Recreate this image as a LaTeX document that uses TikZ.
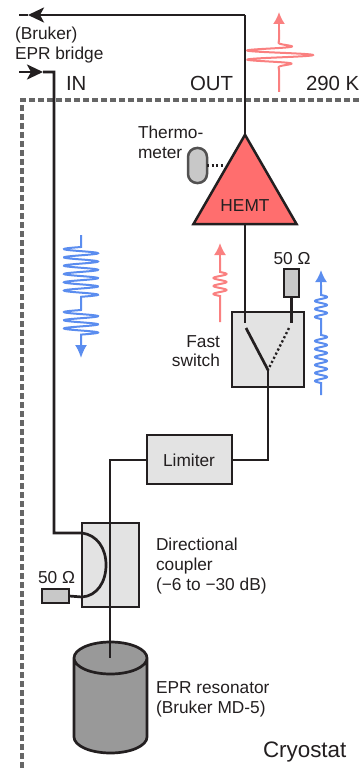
\documentclass[tikz,border=0pt]{standalone}
\usepackage{fontspec}
\setmainfont{Liberation Sans}
\usetikzlibrary{arrows.meta,shapes.geometric}
\definecolor{ink}{HTML}{231F20}
\definecolor{dashgray}{HTML}{666666}
\definecolor{hemtred}{HTML}{FF6E6E}
\definecolor{wavered}{HTML}{FA8080}
\definecolor{waveblue}{HTML}{5B8DEF}
\definecolor{boxgray}{HTML}{E3E3E3}
\definecolor{termgray}{HTML}{C8C8C8}
\definecolor{resgray}{HTML}{999999}
\tikzset{
  wire/.style={draw=ink,line width=2.7pt},
  headwire/.style={wire,-{Stealth[length=16pt,width=15pt,inset=4pt]}},
  boxnode/.style={draw=ink,line width=2.5pt,fill=boxgray,rectangle,inner sep=0pt,outer sep=0pt},
  loadnode/.style={draw=ink,line width=2.5pt,fill=termgray,rectangle,inner sep=0pt,outer sep=0pt},
  txt/.style={font=\fontsize{17.3pt}{19pt}\selectfont,text=ink,inner sep=0pt,outer sep=0pt,anchor=base west},
  bigtxt/.style={txt,font=\fontsize{20.4pt}{23pt}\selectfont},
  cryotxt/.style={txt,font=\fontsize{22.4pt}{24pt}\selectfont},
  wavered/.style={draw=wavered,line width=2pt},
  waveblue/.style={draw=waveblue,line width=2pt},
  redhead/.style={-{Latex[length=12pt,width=12pt]}},
  dotline/.style={draw=ink,line width=2.4pt,dash pattern=on 2.2pt off 2.4pt},
}
\begin{document}
\begin{tikzpicture}[x=1pt,y=-1pt]
\useasboundingbox (0,0) rectangle (359,770);
\fill[white] (0,0) rectangle (359,770);
% cryostat boundary
\draw[draw=dashgray,line width=3.4pt,dash pattern=on 6pt off 3pt] (359,100) -- (22,100) -- (22,770);
% nodes
\node[boxnode,minimum width=57pt,minimum height=84pt] (coupler) at (110.5,565) {};
\node[boxnode,minimum width=85pt,minimum height=49pt] (limiter) at (189.5,459.5) {};
\node[boxnode,minimum width=72pt,minimum height=75pt] (switch) at (268,349.5) {};
\node[loadnode,minimum width=15pt,minimum height=28pt] (loadA) at (291.5,283) {};
\node[loadnode,minimum width=27pt,minimum height=14pt] (loadB) at (55.5,596) {};
\node[draw=ink,line width=2.5pt,fill=hemtred,regular polygon,regular polygon sides=3,minimum size=119pt,inner sep=0pt,outer sep=0pt] (hemt) at (245,194.3) {};
\node[draw=dashgray!70!ink,line width=2.5pt,fill=termgray,rectangle,rounded corners=9pt,minimum width=19pt,minimum height=35pt,inner sep=0pt,outer sep=0pt] (thermo) at (197.5,165.5) {};
% resonator
\coordinate (resTop) at (110,658);
\draw[wire,fill=resgray] (74,658) -- (74,737) arc[start angle=180,end angle=360,x radius=36.5pt,y radius=16pt] -- (147,658) arc[start angle=0,end angle=360,x radius=36.5pt,y radius=16pt];
% coordinates
\coordinate (bridgeOutEnd) at (19,15);
\coordinate (bridgeOutTip) at (28,15);
\coordinate (outCorner) at (245,15);
\coordinate (bridgeInStart) at (19,72);
\coordinate (bridgeInTip) at (43,72);
\coordinate (inCorner) at (54,72);
\coordinate (inBottom) at (54,533);
\coordinate (couplerA) at (82,533);
\coordinate (couplerB) at (82,597);
\coordinate (mainCorner) at (110,460);
\coordinate (swLeft) at (245,323);
\coordinate (swRight) at (291.5,323);
\coordinate (swPivot) at (268,370);
\coordinate (swArm) at (246,328);
\coordinate (swDot) at (289,328);
\coordinate (limCorner) at (268,460);
% connectors
\draw[headwire] (outCorner) -- (bridgeOutTip);
\draw[wire] (bridgeOutTip) -- (bridgeOutEnd);
\draw[wire] (hemt.corner 1) -- (outCorner);
\draw[headwire] (bridgeInStart) -- (bridgeInTip);
\draw[wire,line join=miter] (bridgeInTip) -- (inCorner) -- (inBottom) -- (couplerA)
   .. controls (97,535) and (106,548) .. (106,565)
   .. controls (106,582) and (97,596) .. (couplerB) -- (loadB.east);
\draw[wire] (limiter.west |- mainCorner) -- (mainCorner) -- (resTop);
\draw[wire] (limiter.east |- limCorner) -- (limCorner) -- (swPivot);
\draw[wire] (hemt.side 2) -- (swLeft);
\draw[wire] (loadA.south) -- (swRight);
\draw[wire] (swArm) -- (swPivot);
\draw[dotline] (swDot) -- (swPivot);
\draw[dotline] (thermo.east) -- (224,165.5);
% waves
\draw[wavered] (279,92) -- (279,72) -- plot[variable=\t,domain=72:38,samples=260] ({279+34*exp(-((\t-55)/9)^4)*sin((\t-52.7)*38.3)},\t) -- (279,30);
\draw[wavered,redhead] (279,30) -- (279,12);
\draw[waveblue] (81,235) -- (81,247) -- plot[variable=\t,domain=247:296.8,samples=200] ({81-17*sin((\t-247)*43.37)},\t) -- (81,310) -- plot[variable=\t,domain=310:334.6,samples=110] ({81-17*sin((\t-310)*43.9)},\t) -- (81,345);
\draw[waveblue,-{Latex[length=13pt,width=12pt]}] (81,345) -- (81,358);
\draw[wavered] (220,322) -- (220,296) -- plot[variable=\t,domain=296:272,samples=110] ({220+6.5*sin((\t-272)*45)},\t) -- (220,258);
\draw[wavered,redhead] (220,258) -- (220,243);
\draw[waveblue] (321,395) -- (321,383) -- plot[variable=\t,domain=383:335,samples=200] ({321+6*sin((\t-335)*45)},\t) -- (321,319) -- plot[variable=\t,domain=319:295,samples=110] ({321+6*sin((\t-295)*45)},\t) -- (321,285);
\draw[waveblue,redhead] (321,285) -- (321,270);
% labels
\node[txt] (tBruker) at (15,40) {(Bruker)};
\node[txt] (tBridge) at (15,60) {EPR bridge};
\node[bigtxt] (tIn) at (66,91) {IN};
\node[bigtxt] (tOut) at (190,91) {OUT};
\node[bigtxt] (t290) at (306,91) {290 K};
\node[txt] (tThermoA) at (138,139) {Thermo-};
\node[txt] (tThermoB) at (138,159) {meter};
\node[txt,anchor=base] (tHemt) at (245,211) {HEMT};
\node[txt,anchor=base] (tLoadA) at (292,264) {50 Ω};
\node[txt,anchor=base east] (tFast) at (220,347) {Fast};
\node[txt,anchor=base east] (tSwitch) at (220,366) {switch};
\node[txt,anchor=base] (tLimiter) at (189,466) {Limiter};
\node[txt] (tDir) at (156,550) {Directional};
\node[txt] (tCoup) at (156,570) {coupler};
\node[txt] (tDb) at (156,590) {(−6 to −30 dB)};
\node[txt] (tLoadB) at (38,583) {50 Ω};
\node[txt] (tEpr) at (156,693) {EPR resonator};
\node[txt] (tMd) at (156,713) {(Bruker MD-5)};
\node[cryotxt] (tCryo) at (263,757) {Cryostat};
\end{tikzpicture}
\end{document}
